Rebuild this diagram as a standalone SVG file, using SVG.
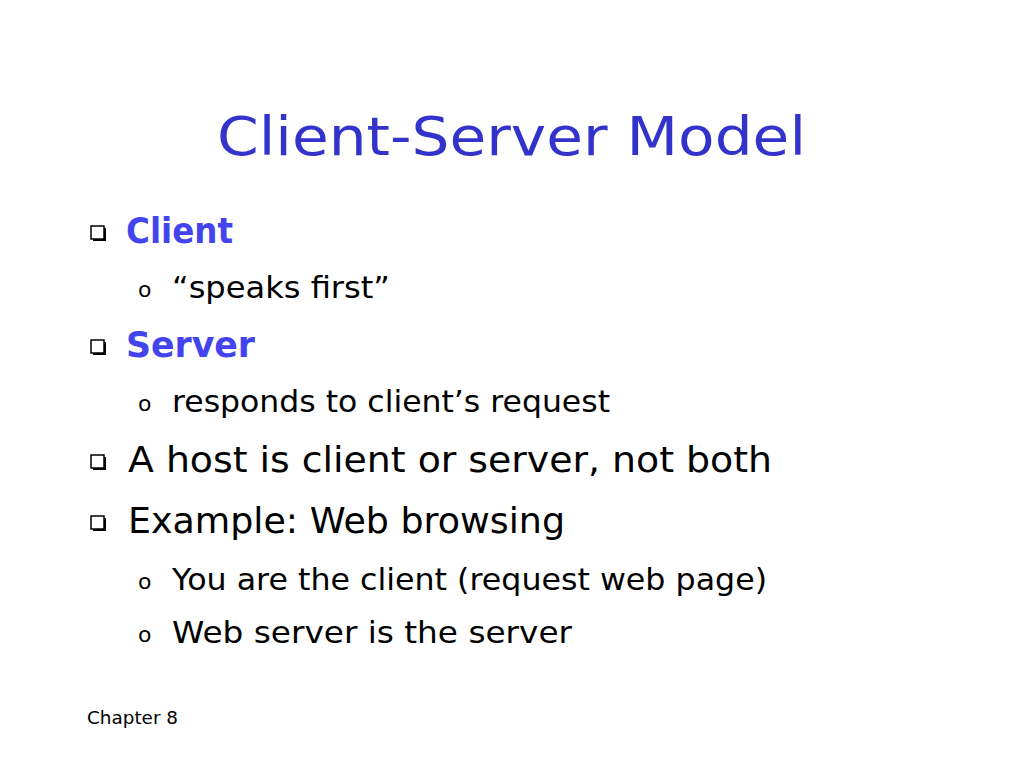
<svg xmlns="http://www.w3.org/2000/svg" width="1024" height="768" viewBox="0 0 1024 768">
<style>
text{font-family:"Comic Sans MS","DejaVu Sans","Liberation Sans",sans-serif}
.t{fill:#3333cc;font-size:54px}
.h{fill:#4444ee;font-size:36px;font-weight:bold}
.m{fill:#000;font-size:36px}
.s{fill:#000;font-size:30px}
.o{fill:#000;font-size:22px}
.f{fill:#000;font-size:18px}
</style>
<defs>
<g id="bx"><rect x="2" y="2" width="13" height="13" fill="#000"/><rect x="0" y="0" width="13" height="13" fill="#fff" stroke="#000" stroke-width="1.5"/></g>
</defs>
<rect width="1024" height="768" fill="#fff"/>
<text class="t" x="217" y="155" textLength="589" lengthAdjust="spacingAndGlyphs">Client-Server Model</text>
<use href="#bx" x="91" y="226"/>
<text class="h" x="126" y="243" textLength="107" lengthAdjust="spacingAndGlyphs">Client</text>
<text class="o" x="138" y="297">o</text>
<text class="s" x="172" y="298" textLength="218" lengthAdjust="spacingAndGlyphs">“speaks first”</text>
<use href="#bx" x="91" y="340"/>
<text class="h" x="126" y="357" textLength="129" lengthAdjust="spacingAndGlyphs">Server</text>
<text class="o" x="138" y="411">o</text>
<text class="s" x="172" y="412" textLength="438" lengthAdjust="spacingAndGlyphs">responds to client’s request</text>
<use href="#bx" x="91" y="455"/>
<text class="m" x="128" y="472" textLength="644" lengthAdjust="spacingAndGlyphs">A host is client or server, not both</text>
<use href="#bx" x="91" y="516"/>
<text class="m" x="128" y="533" textLength="437" lengthAdjust="spacingAndGlyphs">Example: Web browsing</text>
<text class="o" x="138" y="589">o</text>
<text class="s" x="172" y="590" textLength="595" lengthAdjust="spacingAndGlyphs">You are the client (request web page)</text>
<text class="o" x="138" y="642">o</text>
<text class="s" x="172" y="643" textLength="400" lengthAdjust="spacingAndGlyphs">Web server is the server</text>
<text class="f" x="87" y="724" textLength="91" lengthAdjust="spacingAndGlyphs">Chapter 8</text>
</svg>
